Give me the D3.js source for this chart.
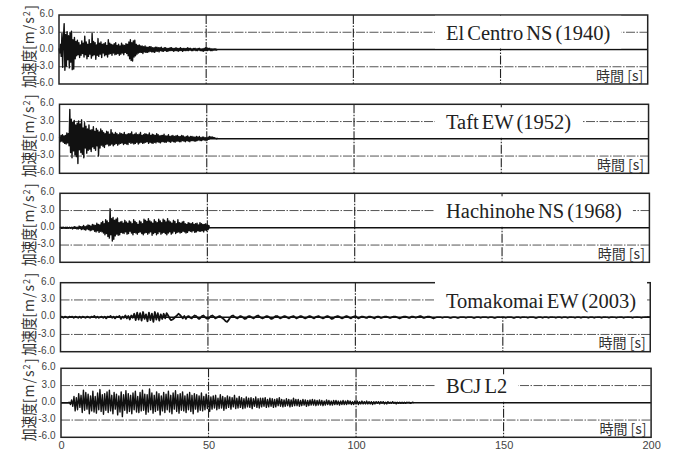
<!DOCTYPE html>
<html>
<head>
<meta charset="utf-8">
<script src="https://cdn.jsdelivr.net/npm/d3@7"></script>
<style>
  body { margin: 0; background: #fff; }
  svg { display: block; }
</style>
</head>
<body>
<svg id="chart" width="674" height="450"></svg>
<script>
// Ground-motion records (acceleration in m/s^2), one array per record
const records = ["El Centro NS (1940)", "Taft EW (1952)", "Hachinohe NS (1968)", "Tomakomai EW (2003)", "BCJ L2"];
const timeSteps = [0.25, 0.25, 0.25, 0.5, 0.4]; // sampling interval of each record [s]

const elCentro = [
  0.2,-0.6,0.9,-1.2, 2.8,-3.1,1.9,4.5, -3.6,2.6,-2.9,3.1, -1.8,2.4,-3.2,2.9,
  -2.2,3.2,-3.5,1.7, -3.4,2.1,-1.6,1.4, -1.1,1.6,-0.9,1.2, -1.4,0.8,-1.0,1.5,
  -0.7,1.1,-1.3,2.3, -0.9,1.3,-1.6,0.9, -1.2,1.7,-0.8,1.0, -1.5,2.8,-1.1,1.4,
  -0.9,1.2,-1.7,0.8, -1.0,1.9,-1.2,1.1, -0.8,1.3,-1.4,0.9, -0.6,1.0,-1.1,1.2,
  -0.9,0.7,-1.3,1.7, -0.8,1.1,-0.7,0.9, -1.0,0.8,-0.6,1.0, -0.9,1.2,-0.8,0.7,
  -0.7,0.9,-1.0,0.6, -0.8,1.1,-0.6,0.8, -0.9,0.7,-0.5,1.0, -0.7,0.9,-1.1,1.3,
  -1.6,1.7,-1.9,1.2, -2.0,1.5,-1.3,1.6, -1.1,0.9,-0.8,0.7, -0.6,0.8,-0.5,0.6,
  -0.5,0.6,-0.7,0.5, -0.4,0.6,-0.5,0.4, -0.5,0.4,-0.4,0.5, -0.3,0.5,-0.4,0.3,
  -0.4,0.3,-0.5,0.4, -0.3,0.4,-0.3,0.3, -0.4,0.3,-0.2,0.4, -0.3,0.2,-0.3,0.3,
  -0.2,0.3,-0.3,0.2, -0.3,0.2,-0.2,0.3, -0.2,0.3,-0.2,0.2, -0.3,0.2,-0.2,0.3,
  -0.2,0.2,-0.3,0.2, -0.2,0.3,-0.2,0.2, -0.3,0.2,-0.2,0.2, -0.2,0.2,-0.2,0.3,
  -0.2,0.2,-0.1,0.2, -0.2,0.1,-0.2,0.2, -0.1,0.2,-0.2,0.1, -0.2,0.2,-0.1,0.2,
  -0.2,0.1,-0.2,0.1, -0.3,0.2,-0.2,0.3, -0.2,0.3,-0.2,0.2, -0.1,0.2,-0.2,0.1,
  -0.2,0.1,-0.1,0.1, -0.1,0.1,-0.1,0.0
];

const taft = [
  0.3,-0.5,0.6,-0.4, 0.7,-0.6,0.5,-0.8, 0.6,-0.9,1.0,-0.7, 0.9,-1.2,5.1,-2.4,
  3.4,-3.3,2.9,-2.1, 3.2,-2.8,2.4,-3.1, 2.7,-4.3,3.1,-1.9, 2.6,-2.4,3.3,-2.7,
  1.9,-3.3,2.8,-1.6, 2.2,-2.5,1.7,-2.0, 2.4,-1.8,1.5,-2.2, 1.6,-1.4,2.1,-1.7,
  1.3,-2.0,1.8,-1.2, 1.5,-3.0,1.2,-1.6, 1.7,-1.1,1.4,-1.3, 1.1,-1.5,0.9,-1.0,
  1.3,-0.9,1.2,-1.2, 0.8,-1.1,1.6,-0.9, 1.0,-1.2,0.8,-1.0, 1.1,-0.8,0.9,-1.1,
  0.7,-0.9,1.0,-0.8, 0.9,-0.7,0.8,-1.0, 1.1,-0.8,0.7,-0.9, 0.8,-1.0,0.9,-0.6,
  0.9,-0.8,1.2,-0.7, 0.7,-0.9,0.8,-0.8, 1.0,-0.6,0.7,-0.9, 0.8,-0.7,1.1,-0.6,
  0.6,-0.8,0.7,-0.7, 0.9,-0.6,0.8,-0.5, 0.7,-0.8,1.0,-0.6, 0.6,-0.7,0.8,-0.8,
  0.7,-0.6,0.6,-0.7, 0.9,-0.5,0.7,-0.6, 0.5,-0.7,0.6,-0.5, 0.6,-0.5,0.8,-0.6,
  0.5,-0.6,0.5,-0.4, 0.7,-0.5,0.4,-0.6, 0.5,-0.4,0.6,-0.5, 0.4,-0.6,0.5,-0.4,
  0.6,-0.4,0.4,-0.5, 0.4,-0.5,0.6,-0.3, 0.5,-0.4,0.3,-0.5, 0.4,-0.3,0.5,-0.4,
  0.3,-0.5,0.4,-0.3, 0.4,-0.3,0.3,-0.4, 0.3,-0.4,0.4,-0.3, 0.3,-0.2,0.4,-0.3,
  0.2,-0.3,0.3,-0.2, 0.3,-0.2,0.2,-0.3, 0.2,-0.2,0.3,-0.1, 0.4,0.1,0.3,0.2,
  0.3,0.1,0.2,0.1, 0.1,0.0,0.1,0.0
];

const hachinohe = [
  0.0,0.1,-0.1,0.1, -0.1,0.1,0.0,-0.1, 0.1,-0.1,0.1,-0.1, 0.0,0.1,-0.1,0.0,
  0.1,-0.2,0.1,-0.1, 0.2,-0.1,0.1,-0.2, 0.1,-0.2,0.3,-0.1, 0.2,-0.3,0.2,-0.2,
  0.4,-0.3,0.2,-0.4, 0.3,-0.2,0.5,-0.3, 0.4,-0.5,0.3,-0.4, 0.6,-0.3,0.5,-0.6,
  0.4,-0.7,0.8,-0.5, 0.6,-0.8,0.5,-0.6, 0.9,-0.7,1.1,-0.9, 0.7,-1.2,1.4,-1.0,
  1.2,-1.5,0.9,-1.8, 3.3,-1.2,1.6,-2.3, 1.8,-2.0,1.3,-1.4, 1.5,-1.1,1.7,-1.3,
  0.9,-1.2,1.0,-0.8, 1.1,-0.9,0.8,-1.0, 1.3,-0.7,1.0,-1.1, 0.8,-1.0,1.2,-0.6,
  1.0,-0.9,0.7,-1.2, 1.4,-0.8,1.1,-0.9, 0.9,-1.1,0.6,-0.8, 1.2,-0.7,1.0,-1.0,
  0.7,-1.2,1.5,-0.9, 1.3,-0.8,1.1,-1.1, 1.6,-0.9,1.2,-0.7, 1.0,-1.3,0.8,-1.0,
  1.4,-0.8,1.1,-1.2, 0.9,-1.0,1.5,-0.7, 1.2,-1.1,0.9,-0.9, 1.5,-0.8,1.3,-1.0,
  1.0,-1.2,1.6,-0.9, 1.2,-0.7,1.0,-1.1, 0.8,-0.9,1.3,-0.6, 1.1,-1.0,0.7,-0.8,
  1.4,-0.7,0.9,-0.9, 0.8,-0.8,1.0,-0.6, 1.1,-0.7,0.7,-0.9, 0.6,-0.8,0.9,-0.5,
  0.8,-0.6,0.7,-0.7, 0.9,-0.5,0.6,-0.8, 0.7,-0.7,0.8,-0.5, 0.5,-0.6,0.9,-0.6,
  0.7,-0.5,0.6,-0.7, 0.6,-0.4,0.7,-0.5, 0.5,-0.3,0.4,-0.1
];

const tomakomai = [
  0.0,0.1,-0.1,0.1,0.0,-0.1,0.1,0.0,0.1,-0.1,
  0.1,0.0,-0.1,0.1,-0.1,0.1,0.0,-0.1,0.1,0.0,
  -0.1,0.1,0.0,0.2,-0.1,0.1,-0.1,0.0,0.1,-0.1,
  0.1,-0.2,0.1,0.0,0.2,-0.1,0.1,-0.2,0.1,0.0,
  0.2,-0.3,0.1,-0.1,0.3,-0.2,0.2,-0.4,0.3,-0.1,
  0.6,-0.5,0.8,-0.4,0.7,-0.6,0.9,-0.3,0.5,-0.7,
  0.8,-0.5,0.6,-0.8,0.9,-0.4,0.7,-0.6,0.5,-0.3,
  0.6,-0.2,0.7,0.3,-0.2,-0.5,-0.4,-0.2,0.1,0.3,
  0.6,0.4,0.1,-0.2,0.2,-0.3,0.1,0.2,-0.1,-0.2,
  0.1,0.3,0.2,-0.1,-0.3,-0.1,0.2,0.3,0.0,-0.2,
  -0.3,-0.1,0.2,0.3,0.1,-0.2,-0.1,0.1,0.2,0.0,
  -0.2,-0.4,-0.7,-0.8,-0.5,-0.1,0.2,0.3,0.1,-0.1,
  -0.2,0.0,0.2,0.1,-0.1,-0.3,-0.2,0.1,0.2,0.1,
  -0.1,-0.2,0.0,0.2,0.3,0.1,-0.1,-0.2,-0.1,0.1,
  0.2,0.1,-0.1,-0.3,-0.2,0.0,0.2,0.2,0.0,-0.2,
  -0.1,0.1,0.2,0.1,-0.1,-0.2,0.0,0.1,0.2,0.0,
  -0.2,-0.1,0.1,0.2,0.1,-0.1,-0.2,-0.1,0.1,0.2,
  0.1,-0.1,-0.2,0.0,0.1,0.2,0.0,-0.1,-0.2,-0.1,
  0.1,0.2,0.1,-0.1,-0.3,-0.2,0.0,0.1,0.2,0.1,
  -0.1,-0.2,-0.1,0.1,0.2,0.1,-0.1,-0.2,0.0,0.1,
  0.2,0.0,-0.2,-0.1,0.1,0.1,0.0,-0.1,-0.1,0.1,
  0.1,0.0,-0.1,-0.2,0.0,0.1,0.1,-0.1,-0.1,0.0,
  0.1,0.1,0.0,-0.1,-0.1,0.0,0.1,0.1,0.0,-0.1,
  -0.2,-0.1,0.0,0.1,0.1,0.0,-0.1,-0.1,0.1,0.1,
  0.0,-0.1,0.0,0.1,0.2,0.1,-0.1,-0.1,0.0,0.1,
  0.1,0.0,-0.1,-0.2,-0.1,0.0,0.1,0.1,0.0,-0.1,
  0.0,0.1,0.1,0.0,-0.1,-0.1,0.0,0.1,0.0,-0.1,
  -0.1,0.0,0.1,0.1,0.0,-0.1,0.0,0.1,0.1,0.0,
  -0.1,-0.1,0.0,0.1,0.0,-0.1,0.0,0.1,0.1,0.0,
  -0.1,0.0,0.1,0.0,-0.1,-0.1,0.0,0.1,0.0,0.0,
  0.1,0.0,-0.1,0.0,0.1,0.1,0.0,-0.1,-0.1,0.0,
  0.1,0.0,-0.1,0.0,0.1,0.0,0.0,-0.1,0.0,0.1,
  0.1,0.0,-0.1,-0.1,0.0,0.1,0.0,-0.1,0.0,0.1,
  0.0,-0.1,0.0,0.1,0.0,0.0,-0.1,0.0,0.1,0.0,
  -0.1,0.0,0.1,0.0,-0.1,0.0,0.1,0.0,0.0,-0.1,
  0.0,0.1,0.0,-0.1,0.0,0.1,0.0,0.0,-0.1,0.0,
  0.1,0.0,-0.1,0.0,0.0,0.1,0.0,-0.1,0.0,0.1,
  0.0,0.0,-0.1,0.0,0.1,0.0,0.0,-0.1,0.0,0.0,
  0.1,0.0,-0.1,0.0,0.0,0.1,0.0,0.0,-0.1,0.0,
  0.0,0.1,0.0,0.0,-0.1,0.0,0.0,0.1,0.0,0.0,0.0
];

const bcjL2 = [
  0,0,0,0,0,0,0,0.1,-0.3,0.5,
  -0.6,1.1,-1.4,0.9,-1.2,1.6,-0.8,1.3,-1.7,2.2,
  -1.3,1.8,-1.1,1.5,-1.9,1.2,-1.4,2.0,-1.6,1.1,
  -1.8,1.7,-1.2,2.3,-1.5,1.4,-2.0,1.6,-1.3,1.9,
  -1.7,2.2,-1.4,1.3,-1.9,1.8,-1.1,1.5,-2.1,1.2,
  -1.6,1.9,-2.4,1.4,-1.3,2.1,-1.8,1.6,-1.5,1.3,
  -1.9,1.7,-1.2,2.0,-1.6,1.1,-1.7,1.8,-1.4,2.2,
  -1.3,1.5,-2.0,1.4,-1.6,2.4,-1.2,1.7,-1.8,1.3,
  -1.5,1.9,-1.3,1.6,-2.1,1.2,-1.4,1.8,-1.7,1.5,
  -1.2,2.0,-1.6,1.3,-1.9,1.7,-1.1,2.1,-1.5,1.4,
  -1.8,1.6,-1.3,1.9,-1.4,1.2,-1.7,1.5,-1.2,1.8,
  -1.5,1.3,-1.9,1.6,-1.1,1.4,-1.6,1.2,-1.3,1.7,
  -1.4,1.1,-1.2,1.5,-1.0,1.3,-1.5,1.0,-1.1,1.2,
  -0.9,1.3,-1.2,0.8,-1.0,1.4,-0.9,1.1,-1.3,0.9,
  -1.0,1.2,-0.8,1.0,-1.1,0.9,-0.7,1.3,-1.0,0.8,
  -0.9,1.1,-0.8,0.9,-1.0,0.7,-0.9,1.0,-0.7,0.8,
  -0.8,0.9,-1.0,0.7,-0.6,1.0,-0.8,0.7,-0.9,0.8,
  -0.7,0.8,-0.6,0.9,-0.8,0.6,-0.7,0.8,-0.6,0.7,
  -0.8,0.6,-0.7,0.7,-0.5,0.9,-0.6,0.6,-0.7,0.5,
  -0.6,0.7,-0.5,0.6,-0.7,0.5,-0.6,0.8,-0.5,0.6,
  -0.5,0.6,-0.6,0.4,-0.5,0.6,-0.4,0.5,-0.6,0.4,
  -0.5,0.5,-0.4,0.6,-0.4,0.5,-0.5,0.4,-0.4,0.5,
  -0.4,0.4,-0.5,0.3,-0.4,0.5,-0.3,0.4,-0.4,0.3,
  -0.4,0.4,-0.3,0.4,-0.3,0.3,-0.4,0.3,-0.3,0.4,
  -0.3,0.3,-0.3,0.4,-0.2,0.3,-0.3,0.2,-0.3,0.3,
  -0.2,0.3,-0.3,0.2,-0.2,0.3,-0.2,0.2,-0.2,0.3,
  -0.2,0.2,-0.2,0.2,-0.3,0.2,-0.2,0.2,-0.1,0.2,
  -0.2,0.2,-0.1,0.2,-0.2,0.1,-0.2,0.2,-0.1,0.1,
  -0.1,0.2,-0.1,0.1,-0.2,0.1,-0.1,0.1,-0.1,0.1,
  -0.1,0.1,-0.1,0.1,0.0,0.1,-0.1,0.0,0.1,0.0
];

const yTicks = [6, 3, 0, -3, -6];
const xTicks = [0, 50, 100, 150, 200];
const gridAcc = [3, -3];
const gridTime = [50, 100, 150];

const series = [elCentro, taft, hachinohe, tomakomai, bcjL2];

// Panel layout
const panelTops = [15, 104.3, 193.3, 282.7, 368.3];
const panelH = 69;
const boxTopOffsets = [0.8, 3, 3, -2, 6];
const traceWidths = [1.4, 1.4, 1.4, 1.8, 1.4];

const fmt = d3.formatLocale({decimal: ".", thousands: ",", grouping: [3], currency: ["", ""], minus: "-"}).format(".1f");
const svg = d3.select("#chart");

records.forEach((name, i) => {
  const top = panelTops[i], bottom = top + panelH;
  const left = 59 + i * 0.5, right = 647.7 + i * 0.85;
  const x = d3.scaleLinear().domain([0, 200]).range([left, right]);
  const y = d3.scaleLinear().domain([-6, 6]).range([bottom, top]);
  const g = svg.append("g");

  // dash-dot grid
  g.selectAll("line.ga").data(gridAcc).join("line")
    .attr("x1", left).attr("x2", right)
    .attr("y1", d => y(d)).attr("y2", d => y(d))
    .attr("stroke", "#555").attr("stroke-width", 1)
    .attr("stroke-dasharray", "9,1.5,1.5,1.5");
  g.selectAll("line.gt").data(gridTime).join("line")
    .attr("x1", d => x(d)).attr("x2", d => x(d))
    .attr("y1", top).attr("y2", bottom)
    .attr("stroke", "#222").attr("stroke-width", 1.1)
    .attr("stroke-dasharray", "9,1.5,1.5,1.5");

  // zero line
  g.append("line")
    .attr("x1", left).attr("x2", right)
    .attr("y1", y(0)).attr("y2", y(0))
    .attr("stroke", "#111").attr("stroke-width", 1.6);

  // acceleration trace
  const dt = timeSteps[i];
  g.append("path").datum(series[i])
    .attr("d", d3.line().x((d, k) => x(k * dt)).y(d => y(d)))
    .attr("fill", "none").attr("stroke", "#111")
    .attr("stroke-width", traceWidths[i]).attr("stroke-linejoin", "round");

  // frame
  g.append("rect")
    .attr("x", left).attr("y", top)
    .attr("width", right - left).attr("height", panelH)
    .attr("fill", "none").attr("stroke", "#222").attr("stroke-width", 1.5);

  // y axis labels
  const ay = g.append("g").attr("transform", `translate(${left},0)`)
    .call(d3.axisLeft(y).tickValues(yTicks).tickSize(0).tickPadding(5.5).tickFormat(fmt));
  ay.select(".domain").remove();
  ay.selectAll("text")
    .attr("dy", "0.16em")
    .style("font-family", "'Liberation Sans', Arial, sans-serif")
    .style("font-size", "10px").attr("fill", "#444");

  // y axis title: condensed kanji followed by the unit
  g.append("text")
    .attr("transform", `translate(35,${top + 73}) rotate(-90) scale(0.8,1)`)
    .style("font-family", "'Noto Sans CJK JP', sans-serif")
    .style("font-size", "16px").attr("fill", "#333")
    .text("加速度");
  const unit = g.append("text")
    .attr("transform", `translate(34,${top + 35}) rotate(-90)`)
    .style("font-family", "'Noto Sans CJK JP', sans-serif")
    .style("font-size", "14px").attr("fill", "#333");
  unit.append("tspan").style("letter-spacing", "1px").text("[m/s");
  unit.append("tspan").attr("dy", "-0.45em").style("font-size", "9px").text("2");
  unit.append("tspan").attr("dy", "0.45em").attr("dx", "1.5").text("]");

  // time label
  g.append("text")
    .attr("x", right - 4.5).attr("y", bottom - 3.5)
    .attr("text-anchor", "end")
    .style("font-family", "'Noto Sans CJK JP', sans-serif")
    .style("font-size", "14px").attr("fill", "#333")
    .text("時間 [s]");

  // record title on a white box
  const title = g.append("text")
    .attr("x", 446).attr("y", top + 25)
    .style("font-family", "'Liberation Serif', 'Times New Roman', serif")
    .style("font-size", "20.5px").style("word-spacing", "-2px")
    .attr("fill", "#222")
    .text(name);
  const bb = title.node().getBBox();
  g.insert("rect", () => title.node())
    .attr("x", bb.x - 11).attr("y", top + boxTopOffsets[i])
    .attr("width", bb.width + 22).attr("height", 33.5 - boxTopOffsets[i])
    .attr("fill", "#fff");

  // time axis under the last panel
  if (i === records.length - 1) {
    const ax = g.append("g").attr("transform", `translate(0,${bottom})`)
      .call(d3.axisBottom(x).tickValues(xTicks).tickSize(0).tickPadding(4).tickFormat(d3.format("d")));
    ax.select(".domain").remove();
    ax.selectAll("text")
      .style("font-family", "'Liberation Sans', Arial, sans-serif")
      .style("font-size", "11px").attr("fill", "#444");
  }
});
</script>
</body>
</html>
